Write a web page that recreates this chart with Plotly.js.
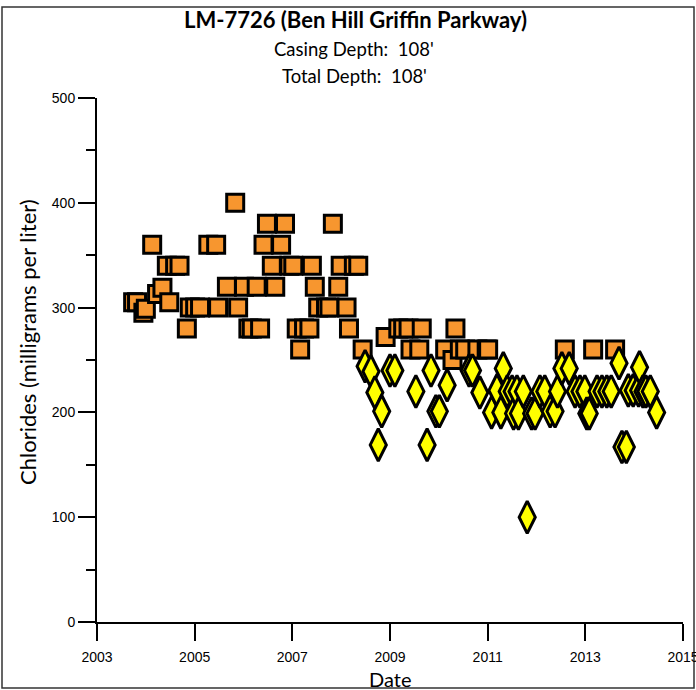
<!DOCTYPE html>
<html><head><meta charset="utf-8">
<script src="https://cdn.plot.ly/plotly-3.0.1.min.js"></script>
<style>html,body{margin:0;padding:0;background:#fff}#chart{width:696px;height:690px}</style>
</head><body><div id="chart"></div>
<script>
// Orange squares (decimal year, chlorides mg/L)
const orangeYears = [2003.74,2003.82,2003.95,2004.00,2004.23,2004.34,2004.48,2004.13,2004.43,2004.60,
  2004.69,2004.84,2004.90,2005.01,2005.11,2005.28,2005.44,2005.48,2005.66,2005.83,
  2005.89,2006.01,2006.10,2006.17,2006.27,2006.34,2006.41,2006.48,2006.58,2006.65,
  2006.77,2006.85,2006.94,2007.02,2007.09,2007.16,2007.24,2007.35,2007.40,2007.46,
  2007.53,2007.69,2007.76,2007.83,2007.94,2007.99,2008.11,2008.16,2008.26,2008.35,
  2008.44,2008.91,2009.17,2009.27,2009.38,2009.42,2009.60,2009.65,2010.13,2010.28,
  2010.34,2010.43,2010.54,2010.79,2010.98,2011.01,2012.58,2013.16,2013.61];
const orangeVals = [305,305,295,299,313,319,305,360,340,340,
  340,280,300,300,300,360,360,300,320,400,
  300,320,280,280,320,280,360,380,340,320,
  360,380,340,340,280,260,280,280,340,320,
  300,300,300,380,320,340,300,280,340,340,
  260,272,280,280,280,260,260,280,260,250,
  280,260,260,260,260,260,260,260,260];

// Yellow diamonds (decimal year, chlorides mg/L)
const yellowYears = [2008.49,2008.61,2008.69,2008.83,2008.76,2009.00,2009.10,2009.53,2009.84,2009.76,
  2009.94,2010.01,2010.17,2010.62,2010.69,2010.84,2011.08,2011.19,2011.32,2011.27,
  2011.40,2011.50,2011.53,2011.60,2011.63,2011.73,2011.81,2011.90,2011.97,2012.07,
  2012.17,2012.28,2012.38,2012.43,2012.52,2012.67,2012.79,2012.89,2012.99,2013.03,
  2013.08,2013.24,2013.34,2013.44,2013.53,2013.69,2013.75,2013.84,2013.88,2013.98,
  2014.09,2014.11,2014.18,2014.24,2014.33,2014.46];
const yellowVals = [244,239,219,201,169,240,240,220,240,169,
  201,201,226,240,240,219,200,221,242,200,
  220,220,199,220,199,220,100,199,199,220,
  220,201,201,220,242,242,220,220,220,199,
  199,220,220,220,220,247,167,167,221,221,
  221,243,220,220,220,200];

const xTickVals = [2003,2005,2007,2009,2011,2013,2015];
const xTickText = ['2003','2005','2007','2009','2011','2013','2015'];
const yTickVals = [0,100,200,300,400,500];
const yTickText = ['0','100','200','300','400','500'];

const titleText = 'LM-7726 (Ben Hill Griffin Parkway)';
const sub1 = 'Casing Depth:&nbsp; 108\'';
const sub2 = 'Total Depth:&nbsp; 108\'';
const xTitle = 'Date';
const yTitle = 'Chlorides (milligrams per liter)';

const traces = [
  {x: orangeYears, y: orangeVals, type:'scatter', mode:'markers', showlegend:false,
   marker:{symbol:'square', size:17, color:'#F7962F', line:{color:'#000', width:3}}},
  {x: yellowYears, y: yellowVals, type:'scatter', mode:'markers', showlegend:false,
   marker:{symbol:'diamond-tall', size:23, color:'#FFFF00', line:{color:'#000', width:3}}}
];

const L = 97, R = 683, T = 98, B = 622;
const W = 696, H = 690;
const px2x = p => (p - L) / (R - L);
const px2y = p => (B - p) / (B - T);

const tickFont = {family:'Liberation Sans, Arial, sans-serif', size:14, color:'#000'};
const textFont = 'Lato, "Open Sans", sans-serif';

const layout = {
  width: W, height: H,
  margin: {l: L, r: W - R, t: T, b: H - B, pad: 0},
  paper_bgcolor:'#fff', plot_bgcolor:'#fff',
  showlegend:false,
  xaxis: {range:[2003,2015], tickvals:xTickVals, ticktext:xTickText, ticks:'outside', ticklen:17,
    tickwidth:2, tickcolor:'#000', showline:true, linewidth:2, linecolor:'#000', showgrid:false,
    zeroline:false, tickfont:tickFont, ticklabelstandoff:4, ticklabeloverflow:'allow', fixedrange:true},
  yaxis: {range:[0,500], tickvals:yTickVals, ticktext:yTickText, ticks:'outside', ticklen:17,
    tickwidth:2, tickcolor:'#000', showline:true, linewidth:2, linecolor:'#000', showgrid:false,
    zeroline:false, tickfont:tickFont, fixedrange:true,
    minor:{dtick:50, tick0:0, ticks:'outside', ticklen:9, tickwidth:2, tickcolor:'#000', showgrid:false}},
  annotations: [
    {text:'<b>'+titleText+'</b>', xref:'paper', yref:'paper', x:px2x(355), y:px2y(20), xanchor:'center', yanchor:'middle',
     showarrow:false, font:{family:textFont, size:22, color:'#000'}},
    {text:sub1, xref:'paper', yref:'paper', x:px2x(354), y:px2y(49), xanchor:'center', yanchor:'middle',
     showarrow:false, font:{family:textFont, size:18.5, color:'#000'}},
    {text:sub2, xref:'paper', yref:'paper', x:px2x(354), y:px2y(76), xanchor:'center', yanchor:'middle',
     showarrow:false, font:{family:textFont, size:18.5, color:'#000'}},
    {text:xTitle, xref:'paper', yref:'paper', x:0.5, y:px2y(679), xanchor:'center', yanchor:'middle',
     showarrow:false, font:{family:textFont, size:20, color:'#000'}},
    {text:yTitle, xref:'paper', yref:'paper', x:px2x(27), y:px2y(342), xanchor:'center', yanchor:'middle', textangle:-90,
     showarrow:false, font:{family:textFont, size:22, color:'#000'}}
  ],
  shapes: [
    {type:'rect', xref:'paper', yref:'paper', x0:px2x(2), x1:px2x(694), y0:px2y(688), y1:px2y(7),
     line:{color:'#333', width:1.5}, fillcolor:'rgba(0,0,0,0)', layer:'below'}
  ]
};

Plotly.newPlot('chart', traces, layout, {staticPlot:true, displayModeBar:false});
</script></body></html>
